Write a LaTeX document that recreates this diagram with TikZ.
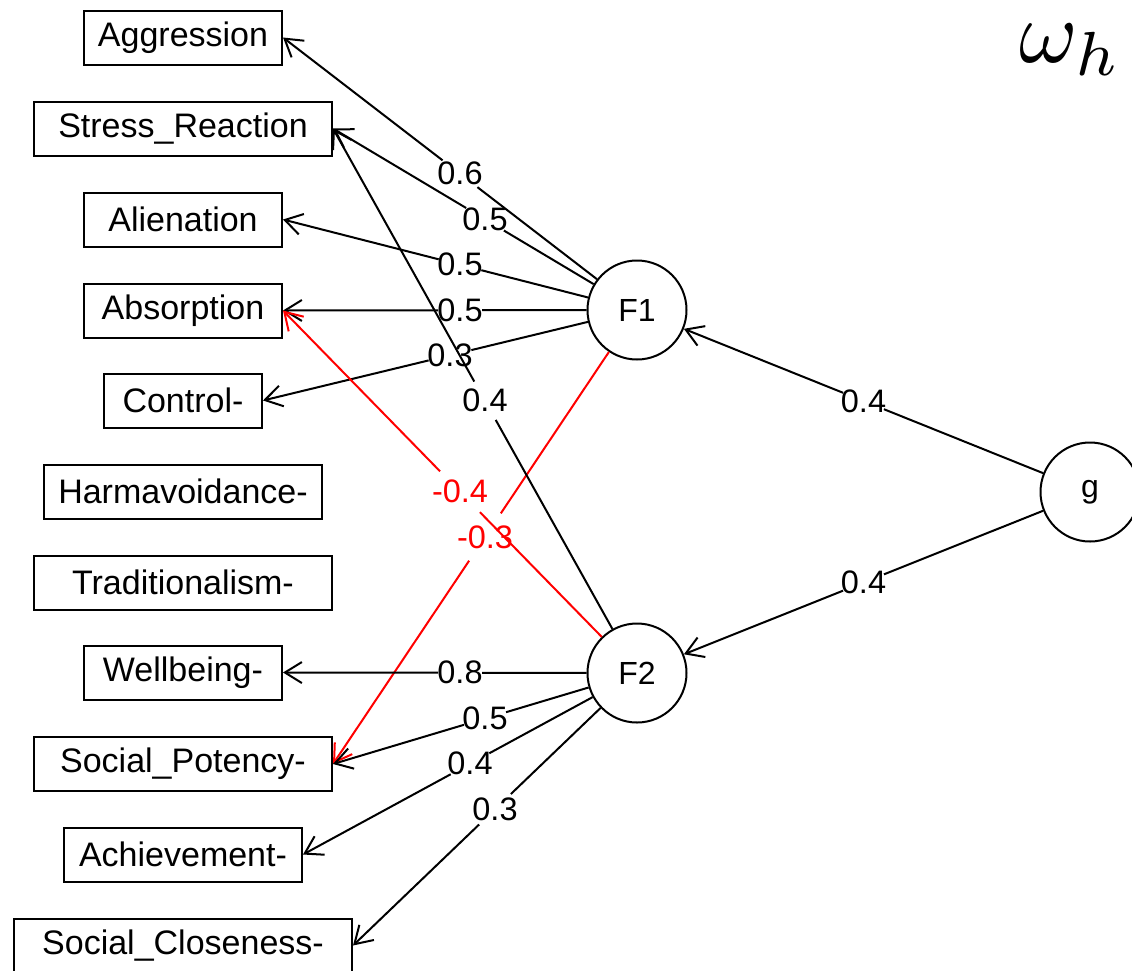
\documentclass[tikz,border=0pt]{standalone}
\usepackage{fontspec}
\setmainfont{Liberation Sans}
\usetikzlibrary{arrows.meta,calc}
\tikzset{
  ln/.style={line width=2pt, line cap=butt},
  arr/.style={-{Straight Barb[length=17pt,width=21pt,line width=2pt]}},
  box/.style={draw, line width=2pt, minimum height=54pt, inner sep=0pt, font=\fontsize{34}{40}\selectfont},
  lat/.style={draw, circle, line width=2pt, minimum size=99pt, inner sep=0pt, font=\fontsize{32}{38}\selectfont},
  lab/.style={inner sep=0pt, font=\fontsize{32.5}{38}\selectfont},
}
\newcommand\myedge[5]{%
  \path (#1) -- (#2) coordinate[pos=0] (s) coordinate[pos=1] (e);
  \coordinate (m) at ($(#1.center)!0.5!(#2)$);
  \draw[ln,#5] (s) -- ($(m)!#4!(s)$);
  \draw[ln,arr,#5] ($(m)!#4!(e)$) -- (e);
  \node[lab,text=#5] at (m) {#3};
}
\begin{document}
\begin{tikzpicture}[x=1pt,y=-1pt]
\useasboundingbox (0,0) rectangle (1132,970);
% observed variables
\node[box,minimum width=198pt] (agg) at (183,37.5) {Aggression};
\node[box,minimum width=298pt] (str) at (183,128.5) {Stress\_Reaction};
\node[box,minimum width=198pt] (ali) at (183,219.5) {Alienation};
\node[box,minimum width=198pt] (abs) at (183,310.5) {Absorption};
\node[box,minimum width=158pt] (con) at (183,400.5) {Control-};
\node[box,minimum width=278pt] (har) at (183,491.5) {Harmavoidance-};
\node[box,minimum width=298pt] (tra) at (183,582.5) {Traditionalism-};
\node[box,minimum width=198pt] (wel) at (183,672.5) {Wellbeing-};
\node[box,minimum width=298pt] (soc) at (183,764) {Social\_Potency-};
\node[box,minimum width=238pt] (ach) at (183,854.5) {Achievement-};
\node[box,minimum width=338pt] (clo) at (183,945.5) {Social\_Closeness-};
% latent variables
\node[lat] (F1) at (637,310) {F1};
\node[lat] (F2) at (637,673) {F2};
\node[lat] (g) at (1090,492) {g};
% title
\node[inner sep=0pt, anchor=base west, scale=8.9] (om) at (1018,62) {$\omega_h$};
% loadings
\myedge{F1}{agg.east}{0.6}{22pt}{black}
\myedge{F1}{str.east}{0.5}{22pt}{black}
\myedge{F1}{ali.east}{0.5}{22pt}{black}
\myedge{F1}{abs.east}{0.5}{22pt}{black}
\myedge{F1}{con.east}{0.3}{22pt}{black}
\myedge{F1}{soc.east}{-0.3}{28.5pt}{red}
\myedge{F2}{str.east}{0.4}{22pt}{black}
\myedge{F2}{abs.east}{-0.4}{28.5pt}{red}
\myedge{F2}{wel.east}{0.8}{22pt}{black}
\myedge{F2}{soc.east}{0.5}{22pt}{black}
\myedge{F2}{ach.east}{0.4}{22pt}{black}
\myedge{F2}{clo.east}{0.3}{22pt}{black}
\myedge{g}{F1}{0.4}{22pt}{black}
\myedge{g}{F2}{0.4}{22pt}{black}
\end{tikzpicture}
\end{document}
